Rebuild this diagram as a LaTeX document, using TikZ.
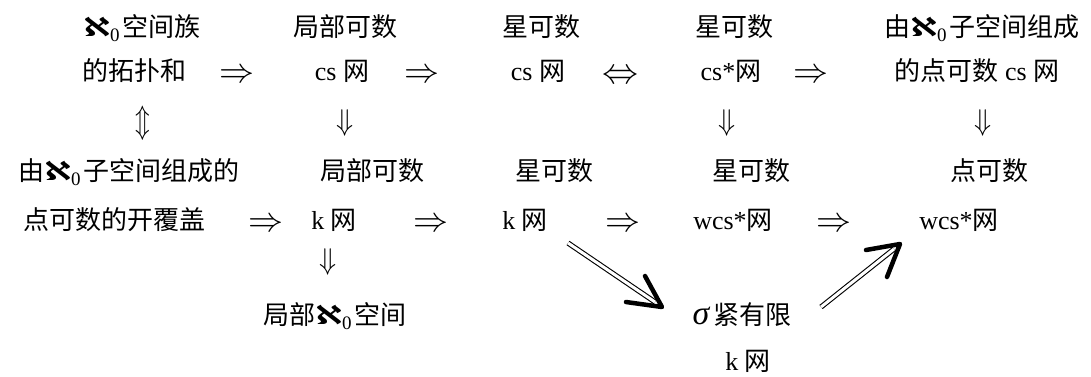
\documentclass[tikz,border=0pt]{standalone}
\usepackage{graphicx}
\usepackage{fontspec}
\setmainfont{Liberation Serif}
\newfontfamily\cjk{Noto Sans CJK SC}
\newfontfamily\alephfont{DejaVu Sans}
\newcommand\zh[1]{{\cjk #1}}
\newcommand\alz{{\alephfont\bfseries\scalebox{1.3}[1]{ℵ}}\raisebox{-5pt}{\fontsize{19}{22}\selectfont 0}\hspace{3pt}}
\newcommand\symRA{\scalebox{3.5}[3.5]{$\Rightarrow$}}
\newcommand\symLRA{\scalebox{3.6}[3.6]{$\Leftrightarrow$}}
\newcommand\symDA{\scalebox{2.8}[3.0]{$\Downarrow$}}
\newcommand\symUDA{\scalebox{2.4}[3.3]{$\Updownarrow$}}
\begin{document}
\begin{tikzpicture}[x=1pt,y=-1pt,
 lbl/.style={anchor=base,inner sep=0pt,font=\fontsize{26}{30}\selectfont},
 arr/.style={anchor=center,inner sep=0pt,font=\normalsize},
 dbl/.style={double,double distance=3pt,line width=1.1pt},
 head/.style={line width=4.5pt,line cap=round,line join=round}]
\path[use as bounding box] (0,0) rectangle (1091,376);
% row 1
\node[lbl] (a1) at (142,36) {\alz\zh{空间族}};
\node[lbl] (b1) at (345,36) {\zh{局部可数}};
\node[lbl] (c1) at (541,36) {\zh{星可数}};
\node[lbl] (d1) at (734,36) {\zh{星可数}};
\node[lbl] (e1) at (982,36) {\zh{由}\alz\zh{子空间组成}};
% row 2
\node[lbl] (a2) at (134,80) {\zh{的拓扑和}};
\node[lbl] (b2) at (342,80) {cs \zh{网}};
\node[lbl] (c2) at (538,80) {cs \zh{网}};
\node[lbl] (d2) at (731,80) {cs*\zh{网}};
\node[lbl] (e2) at (977,80) {\zh{的点可数} cs \zh{网}};
\node[arr] (r21) at (237,76) {\symRA};
\node[arr] (r22) at (422,76) {\symRA};
\node[arr] (r23) at (620,77) {\symLRA};
\node[arr] (r24) at (811,76) {\symRA};
% vertical arrows
\node[arr] (v1) at (143,123) {\symUDA};
\node[arr] (v2) at (345,123) {\symDA};
\node[arr] (v3) at (727,123) {\symDA};
\node[arr] (v4) at (983,123) {\symDA};
% row 3
\node[lbl] (a3) at (129,180) {\zh{由}\alz\zh{子空间组成的}};
\node[lbl] (b3) at (372,180) {\zh{局部可数}};
\node[lbl] (c3) at (554,180) {\zh{星可数}};
\node[lbl] (d3) at (751,180) {\zh{星可数}};
\node[lbl] (e3) at (989,180) {\zh{点可数}};
% row 4
\node[lbl] (a4) at (114,229) {\zh{点可数的开覆盖}};
\node[lbl] (b4) at (334,229) {k \zh{网}};
\node[lbl] (c4) at (525,229) {k \zh{网}};
\node[lbl] (d4) at (733,229) {wcs*\zh{网}};
\node[lbl] (e4) at (959,229) {wcs*\zh{网}};
\node[arr] (r41) at (266,225) {\symRA};
\node[arr] (r42) at (431,225) {\symRA};
\node[arr] (r43) at (623,225) {\symRA};
\node[arr] (r44) at (834,225) {\symRA};
\node[arr] (v5) at (328,262) {\symDA};
% row 5
\node[lbl] (f5) at (335,324) {\zh{局部}\alz\zh{空间}};
\node[lbl] (g5) at (742,324) {{\itshape\scalebox{1.3}{σ}}\hspace{4pt}\zh{紧有限}};
\node[lbl] (g6) at (748,370) {k \zh{网}};
% diagonal arrows
\coordinate (p1) at (568,243);
\coordinate (q1) at (655,302);
\coordinate (t1) at (662,307);
\draw[dbl] (p1) -- (q1);
\draw[head] (t1) ++(-36,-5) -- (t1) -- ++(-17,-31);
\coordinate (p2) at (821,307);
\coordinate (q2) at (894,249);
\coordinate (t2) at (900,244);
\draw[dbl] (p2) -- (q2);
\draw[head] (t2) ++(-34,6) -- (t2) -- ++(-13,33);
\end{tikzpicture}
\end{document}
